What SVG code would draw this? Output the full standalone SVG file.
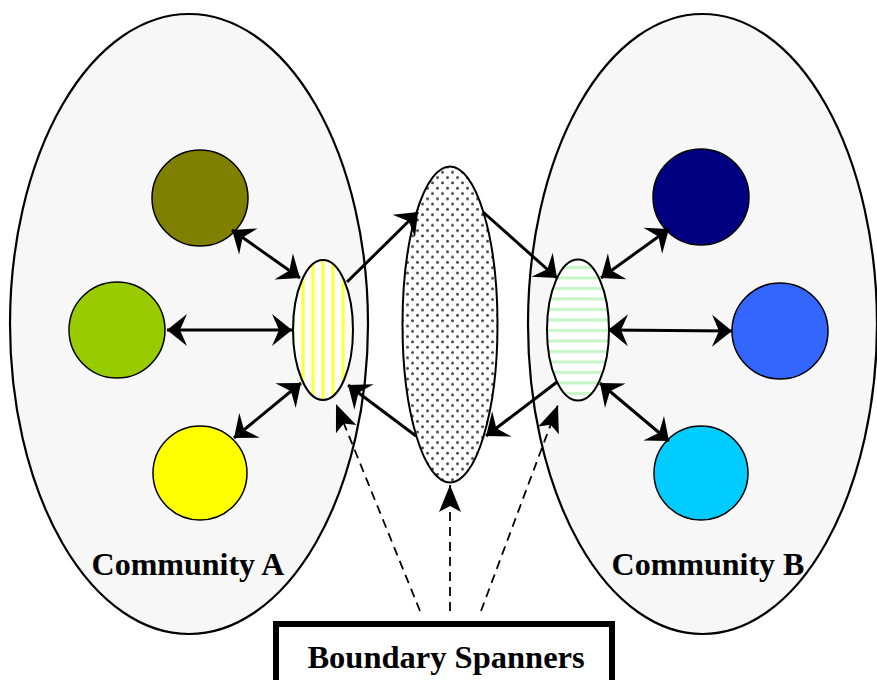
<svg xmlns="http://www.w3.org/2000/svg" width="877" height="680" viewBox="0 0 877 680">
<style>
.comm{fill:#F7F7F7;stroke:#000;stroke-width:2.2}
.node{stroke:#000;stroke-width:1.5}
.lbl{font-family:"Liberation Serif","Times New Roman",serif;font-weight:bold;font-size:32px;fill:#000}
.link{stroke:#000;stroke-width:3;fill:none}
.dash{stroke:#000;stroke-width:1.8;fill:none;stroke-dasharray:9,6}
</style>
<defs>
<marker id="ah" markerUnits="userSpaceOnUse" markerWidth="40" markerHeight="40" refX="0" refY="0" viewBox="-20 -20 40 40" orient="auto-start-reverse" overflow="visible">
<path d="M0,0 L-20,-16 L-13,0 L-20,16 Z" fill="#000"/>
</marker>
<marker id="dh" markerUnits="userSpaceOnUse" markerWidth="40" markerHeight="40" refX="0" refY="0" viewBox="-30 -20 40 40" orient="auto" overflow="visible">
<path d="M0,0 L-27,-11 L-21,0 L-27,11 Z" fill="#000"/>
</marker>
<pattern id="vstripe" patternUnits="userSpaceOnUse" x="298" y="0" width="10" height="10">
<rect width="10" height="10" fill="#fff"/>
<rect x="3.5" width="3" height="10" fill="#FFFF33"/>
</pattern>
<pattern id="hstripe" patternUnits="userSpaceOnUse" x="0" y="262" width="10" height="10.5">
<rect width="10" height="10.5" fill="#fff"/>
<rect y="4" width="10" height="3" fill="#C4F5C4"/>
</pattern>
<pattern id="dots" patternUnits="userSpaceOnUse" width="10" height="10.6">
<rect width="10" height="10.6" fill="#fff"/>
<circle cx="2.5" cy="2.65" r="1.5" fill="#444"/>
<circle cx="7.5" cy="7.95" r="1.5" fill="#444"/>
</pattern>
</defs>

<g id="communityA">
<ellipse class="comm" cx="189" cy="324" rx="179" ry="310"/>
<text class="lbl" x="188" y="575" text-anchor="middle">Community A</text>
</g>
<g id="communityB">
<ellipse class="comm" cx="702.5" cy="324" rx="174.5" ry="310"/>
<text class="lbl" x="708" y="575" text-anchor="middle">Community B</text>
</g>

<g id="a1"><circle class="node" cx="200" cy="198" r="48" fill="#808000"/></g>
<g id="a2"><circle class="node" cx="117" cy="330" r="48" fill="#99CC00"/></g>
<g id="a3"><circle class="node" cx="200" cy="473" r="47" fill="#FFFF00"/></g>
<g id="b1"><circle class="node" cx="701" cy="197" r="48" fill="#000080"/></g>
<g id="b2"><circle class="node" cx="780" cy="331" r="48" fill="#3366FF"/></g>
<g id="b3"><circle class="node" cx="701" cy="473" r="47" fill="#00CCFF"/></g>

<g id="spannerA"><ellipse cx="323" cy="330" rx="30" ry="70" fill="url(#vstripe)" stroke="#000" stroke-width="2"/></g>
<g id="spannerB"><ellipse cx="578" cy="330" rx="31" ry="70.5" fill="url(#hstripe)" stroke="#000" stroke-width="2"/></g>
<g id="spannerCenter"><ellipse cx="450" cy="324.5" rx="47.5" ry="158" fill="url(#dots)" stroke="#000" stroke-width="2"/></g>

<g id="box">
<rect x="276" y="624" width="336" height="70" fill="#fff" stroke="#000" stroke-width="6"/>
<text class="lbl" x="446" y="668" text-anchor="middle" style="font-size:32.5px">Boundary Spanners</text>
</g>

<g id="connectors">
<line class="link" x1="232" y1="230" x2="300" y2="278" marker-start="url(#ah)" marker-end="url(#ah)"/>
<line class="link" x1="167" y1="330" x2="292" y2="330" marker-start="url(#ah)" marker-end="url(#ah)"/>
<line class="link" x1="234" y1="438" x2="301" y2="383" marker-start="url(#ah)" marker-end="url(#ah)"/>
<line class="link" x1="347" y1="282" x2="418" y2="212" marker-end="url(#ah)"/>
<line class="link" x1="416" y1="436" x2="348" y2="385" marker-end="url(#ah)"/>
<line class="link" x1="483" y1="212" x2="557" y2="278" marker-end="url(#ah)"/>
<line class="link" x1="557" y1="382" x2="486" y2="436" marker-end="url(#ah)"/>
<line class="link" x1="601" y1="278" x2="669" y2="229" marker-start="url(#ah)" marker-end="url(#ah)"/>
<line class="link" x1="608" y1="330" x2="732" y2="331" marker-start="url(#ah)" marker-end="url(#ah)"/>
<line class="link" x1="600" y1="383" x2="669" y2="441" marker-start="url(#ah)" marker-end="url(#ah)"/>
<line class="dash" x1="420" y1="611" x2="336" y2="404" marker-end="url(#dh)"/>
<line class="dash" x1="450" y1="611" x2="450" y2="485" marker-end="url(#dh)"/>
<line class="dash" x1="481" y1="611" x2="558" y2="405" marker-end="url(#dh)"/>
</g>
</svg>
